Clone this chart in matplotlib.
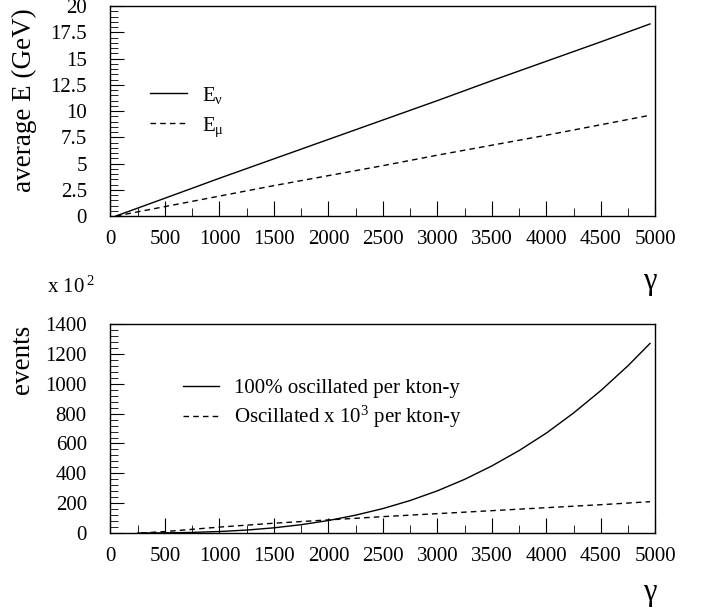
import numpy as np
import matplotlib
matplotlib.use('Agg')
from matplotlib import pyplot as plt
from matplotlib.ticker import MultipleLocator, FuncFormatter

plt.rcParams['font.family'] = ['Liberation Serif', 'DejaVu Serif']
plt.rcParams['mathtext.fontset'] = 'custom'
plt.rcParams['mathtext.rm'] = 'Liberation Serif'
plt.rcParams['mathtext.default'] = 'regular'

# average energies vs gamma
gamma_e = [50, 500, 1000, 1500, 2000, 2500, 3000, 3500, 4000, 4500, 4950]
e_nu = [0.0, 1.7, 3.6, 5.45, 7.3, 9.15, 11.0, 12.9, 14.75, 16.6, 18.3]
e_mu = [0.0, 0.9, 1.9, 2.9, 3.85, 4.8, 5.8, 6.75, 7.7, 8.7, 9.6]

# event rates (x 10^2) vs gamma
gamma_ev = [250, 500, 750, 1000, 1250, 1500, 1750, 2000, 2250, 2500, 2750,
            3000, 3250, 3500, 3750, 4000, 4250, 4500, 4750, 4950]
ev_full = [0.2, 1.3, 4.3, 10.3, 20, 35, 56, 84, 120, 164, 218,
           283, 360, 450, 553, 670, 805, 955, 1122, 1270]
gamma_osc = [280, 500, 750, 1000, 1500, 2000, 2500, 3000, 3500, 4000, 4500, 4950]
ev_osc = [0, 10, 25, 40, 66, 88, 110, 130, 150, 170, 190, 210]

fig = plt.figure(figsize=(7.15, 6.12), dpi=100)
ax1 = fig.add_axes([0.1545, 0.647, 0.7622, 0.343])
ax2 = fig.add_axes([0.1545, 0.129, 0.7622, 0.3415])

ax1.plot(gamma_e, e_nu, color='black', lw=1.0, label='E$_{ν}$')
ax1.plot(gamma_e, e_mu, color='black', lw=1.0, ls=(0, (4, 3)), label='E$_{μ}$')
ax1.set_ylim(0, 20)
ax1.yaxis.set_major_locator(MultipleLocator(2.5))
ax1.yaxis.set_minor_locator(MultipleLocator(0.5))
ax1.yaxis.set_major_formatter(FuncFormatter(lambda v, p: '%g' % v))
ax1.set_ylabel('average E (GeV)', fontsize=19.5)
ax1.yaxis.set_label_coords(-0.135, 0.55)
ax1.legend(loc='upper left', bbox_to_anchor=(0.057, 0.665), frameon=False,
           fontsize=15, handlelength=1.8, handletextpad=0.7,
           labelspacing=0.45, borderaxespad=0)

ax2.plot(gamma_ev, ev_full, color='black', lw=1.0, label='100% oscillated per kton-y')
ax2.plot(gamma_osc, ev_osc, color='black', lw=1.0, ls=(0, (4, 3)),
         label='Oscillated x 10$^{3}$ per kton-y')
ax2.set_ylim(0, 1400)
ax2.yaxis.set_major_locator(MultipleLocator(200))
ax2.yaxis.set_minor_locator(MultipleLocator(40))
ax2.set_ylabel('events', fontsize=19.5)
ax2.yaxis.set_label_coords(-0.138, 0.83)
ax2.legend(loc='upper left', bbox_to_anchor=(0.118, 0.78), frameon=False,
           fontsize=15, handlelength=1.7, handletextpad=0.75,
           labelspacing=0.3, borderaxespad=0)

for ax in (ax1, ax2):
    ax.set_xlim(0, 5000)
    ax.xaxis.set_major_locator(MultipleLocator(500))
    ax.xaxis.set_minor_locator(MultipleLocator(250))
    ax.tick_params(which='both', direction='in', top=False, right=False, labelsize=15)
    ax.tick_params(axis='x', which='major', length=11, pad=10)
    ax.tick_params(axis='x', which='minor', length=5.5)
    ax.tick_params(axis='y', which='major', length=10, pad=17)
    ax.tick_params(axis='y', which='minor', length=5.5)
    for s in ax.spines.values():
        s.set_linewidth(1.0)

fig.text(0.909, 0.540, 'γ', fontsize=22, ha='center', va='center')
fig.text(0.909, 0.032, 'γ', fontsize=22, ha='center', va='center')
fig.text(0.066, 0.531, 'x 10$^{\\,2}$', fontsize=15, ha='left', va='center')

fig.savefig('out.png', dpi=100)
